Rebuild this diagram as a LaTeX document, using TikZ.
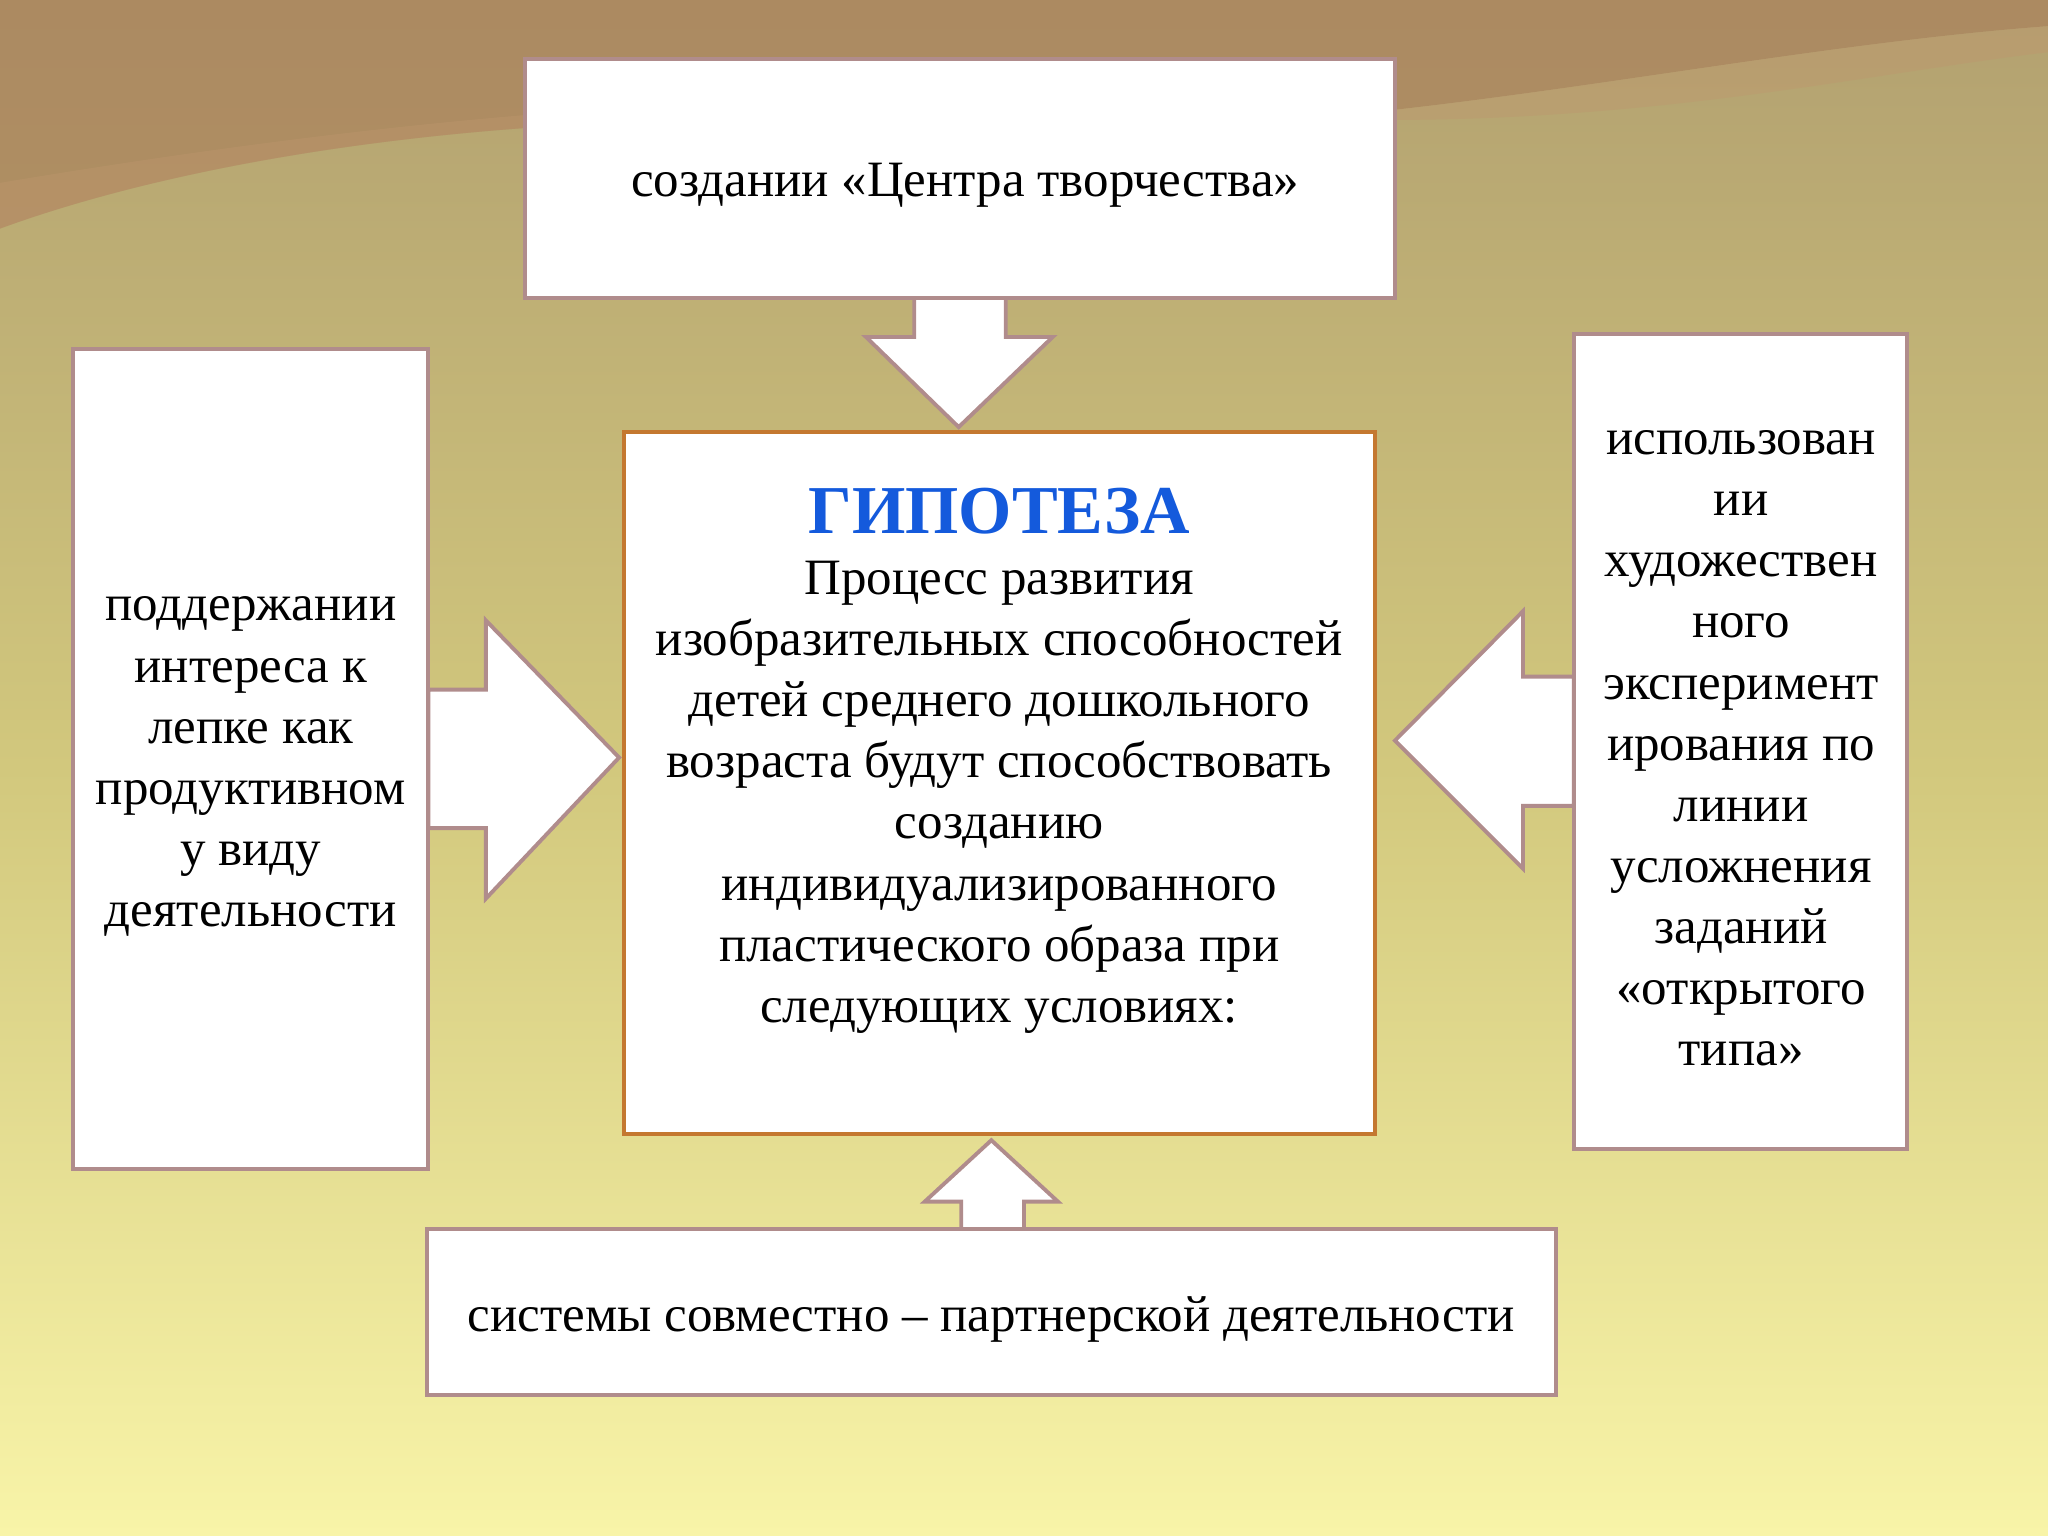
\documentclass[tikz,border=0pt]{standalone}
\usepackage{fontspec}
\setmainfont{Liberation Serif}
\definecolor{bx}{RGB}{176,140,140}
\definecolor{cb}{RGB}{196,120,48}
\definecolor{ttl}{RGB}{20,90,220}
\begin{document}
\begin{tikzpicture}[x=0.01306cm,y=-0.01306cm,
 box/.style={draw=bx,line width=1.1pt,fill=white},
 arr/.style={draw=bx,line width=1.1pt,fill=white,line join=miter},
 txt/.style={align=center,font=\fontsize{14.5}{17.4}\selectfont}]
\useasboundingbox (0,0) rectangle (1568,1176);
\shade[top color={rgb,255:red,178;green,160;blue,112},bottom color={rgb,255:red,248;green,244;blue,168},middle color={rgb,255:red,210;green,200;blue,125}] (0,0) rectangle (1568,1176);
\fill[color={rgb,255:red,168;green,124;blue,88},opacity=0.6] (0,0) -- (1568,0) -- (1568,20) .. controls (1300,40) and (1000,120) .. (700,95) .. controls (400,80) and (150,120) .. (0,175) -- cycle;
\fill[color={rgb,255:red,190;green,150;blue,110},opacity=0.4] (0,140) .. controls (300,90) and (600,60) .. (900,85) .. controls (1200,110) and (1400,60) .. (1568,40) -- (1568,20) .. controls (1300,40) and (1000,120) .. (700,95) .. controls (400,80) and (150,120) .. (0,175) -- cycle;
% arrows
\draw[arr] (700,228) -- (700,258) -- (663,258) -- (734,327) -- (806,258) -- (770,258) -- (770,228) -- cycle;
\draw[arr] (328,528) -- (372,528) -- (372,475) -- (474,580) -- (372,688) -- (372,634) -- (328,634) -- cycle;
\draw[arr] (1205,518) -- (1166,518) -- (1166,468) -- (1068,567) -- (1166,665) -- (1166,617) -- (1205,617) -- cycle;
\draw[arr] (736,941) -- (736,920) -- (708,920) -- (759,873) -- (810,920) -- (784,920) -- (784,941) -- cycle;
% boxes
\draw[box] (402,45) rectangle (1068,228);
\node[txt] (top) at (739,142) {создании «Центра творчества»};
\draw[box] (56,267) rectangle (328,895);
\node[txt] (left) at (192,587) {поддержании\\интереса к\\лепке как\\продуктивном\\у виду\\деятельности};
\draw[box,draw=cb] (478,331) rectangle (1053,868);
\node[txt,anchor=north] (c) at (765,364) {{\fontsize{19.5}{24}\selectfont\bfseries\color{ttl}ГИПОТЕЗА}\\Процесс развития\\изобразительных способностей\\детей среднего дошкольного\\возраста будут способствовать\\созданию\\индивидуализированного\\пластического образа при\\следующих условиях:};
\draw[box] (1205,256) rectangle (1460,880);
\node[txt] (right) at (1333,573) {использован\\ии\\художествен\\ного\\эксперимент\\ирования по\\линии\\усложнения\\заданий\\«открытого\\типа»};
\draw[box] (327,941) rectangle (1191,1068);
\node[txt] (bot) at (759,1010) {системы совместно – партнерской деятельности};
\end{tikzpicture}
\end{document}
